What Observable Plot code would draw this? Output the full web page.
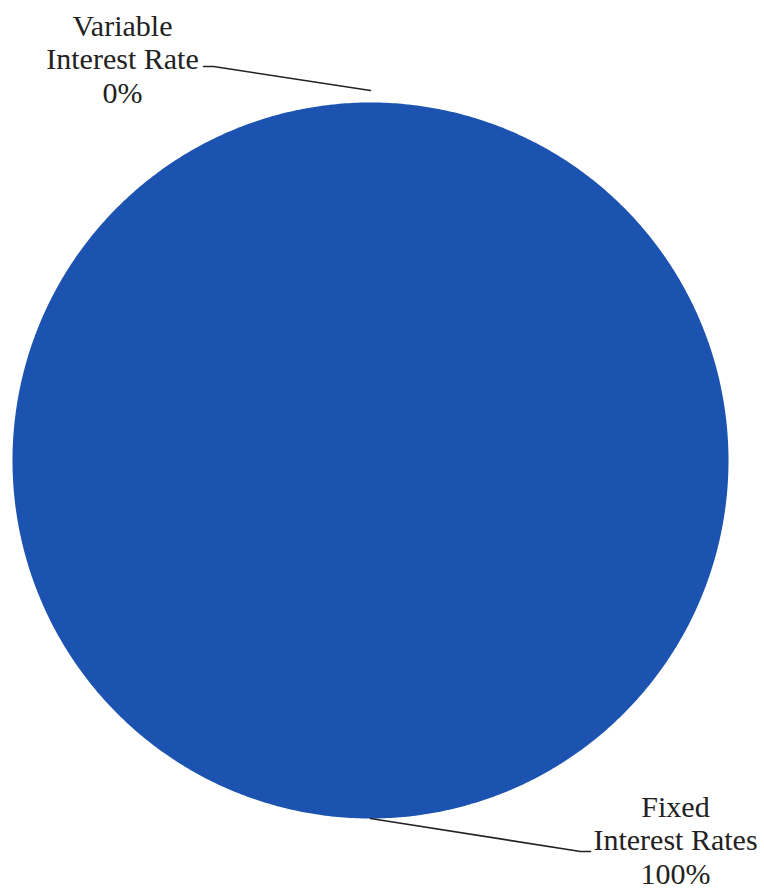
<!DOCTYPE html>
<html>
<head>
<meta charset="utf-8">
<script src="https://cdn.jsdelivr.net/npm/d3@7"></script>
<script src="https://cdn.jsdelivr.net/npm/@observablehq/plot@0.6"></script>
<style>
  html, body { margin: 0; padding: 0; background: #fff; }
  #chart svg { display: block; font-family: "Liberation Serif", serif; }
  #chart svg text, #chart svg tspan { font-family: "Liberation Serif", serif !important; }
</style>
</head>
<body>
<div id="chart"></div>
<script>
// Data
const categories = ["Variable\nInterest Rate", "Fixed\nInterest Rates"];
const values = [0, 100];
const valueLabels = ["0%", "100%"];
const colors = ["#c0504d", "#1c52b0"];

// Layout (pixel space)
const W = 764, H = 890;
const cx = 370, cy = 460, R = 358;
const labelX = [122, 675];
const labelY = [11, 792];
const leaderOffset = [12, 0];
const leaderElbow = [[213, 66], [580, 851]];
const leaderEnd = [[203, 66], [590, 851]];

const pie = d3.pie().sort(null).startAngle(0).endAngle(2 * Math.PI);
const arcs = pie(values);

const pt = (a, r) => [cx + r * Math.sin(a), cy - r * Math.cos(a)];

// slice polygons
const slicePts = [];
arcs.forEach((a, i) => {
  if (a.endAngle - a.startAngle <= 0) return;
  const n = Math.max(2, Math.ceil((a.endAngle - a.startAngle) / (Math.PI / 360)));
  const full = a.endAngle - a.startAngle >= 2 * Math.PI - 1e-9;
  if (!full) slicePts.push({ s: i, x: cx, y: cy });
  for (let k = 0; k <= n; k++) {
    const t = a.startAngle + (a.endAngle - a.startAngle) * k / n;
    const [x, y] = pt(t, R);
    slicePts.push({ s: i, x, y });
  }
});

// leader lines
const leaderPts = [];
arcs.forEach((a, i) => {
  const mid = (a.startAngle + a.endAngle) / 2;
  const [x0, y0] = pt(mid, R + leaderOffset[i]);
  leaderPts.push({ s: i, x: x0, y: y0 });
  leaderPts.push({ s: i, x: leaderElbow[i][0], y: leaderElbow[i][1] });
  leaderPts.push({ s: i, x: leaderEnd[i][0], y: leaderEnd[i][1] });
});

const labels = categories.map((c, i) => ({ text: c + "\n" + valueLabels[i], x: labelX[i], y: labelY[i] }));

const plot = Plot.plot({
  width: W,
  height: H,
  margin: 0,
  x: { domain: [0, W], range: [0, W], axis: null },
  y: { domain: [0, H], range: [0, H], axis: null },
  marks: [
    Plot.line(slicePts, { x: "x", y: "y", z: "s", fill: d => colors[d.s], stroke: "none", curve: "linear-closed" }),
    Plot.line(leaderPts, { x: "x", y: "y", z: "s", stroke: "#222", strokeWidth: 1.6 }),
    Plot.text(labels, { x: "x", y: "y", text: "text", textAnchor: "middle", lineAnchor: "top", lineHeight: 1.13, fontSize: 30, fill: "#222" })
  ]
});
d3.select(plot).attr("font-family", "Liberation Serif");
d3.select(plot).selectAll("g, text, tspan").attr("font-family", "Liberation Serif");
document.getElementById("chart").appendChild(plot);
</script>
</body>
</html>
